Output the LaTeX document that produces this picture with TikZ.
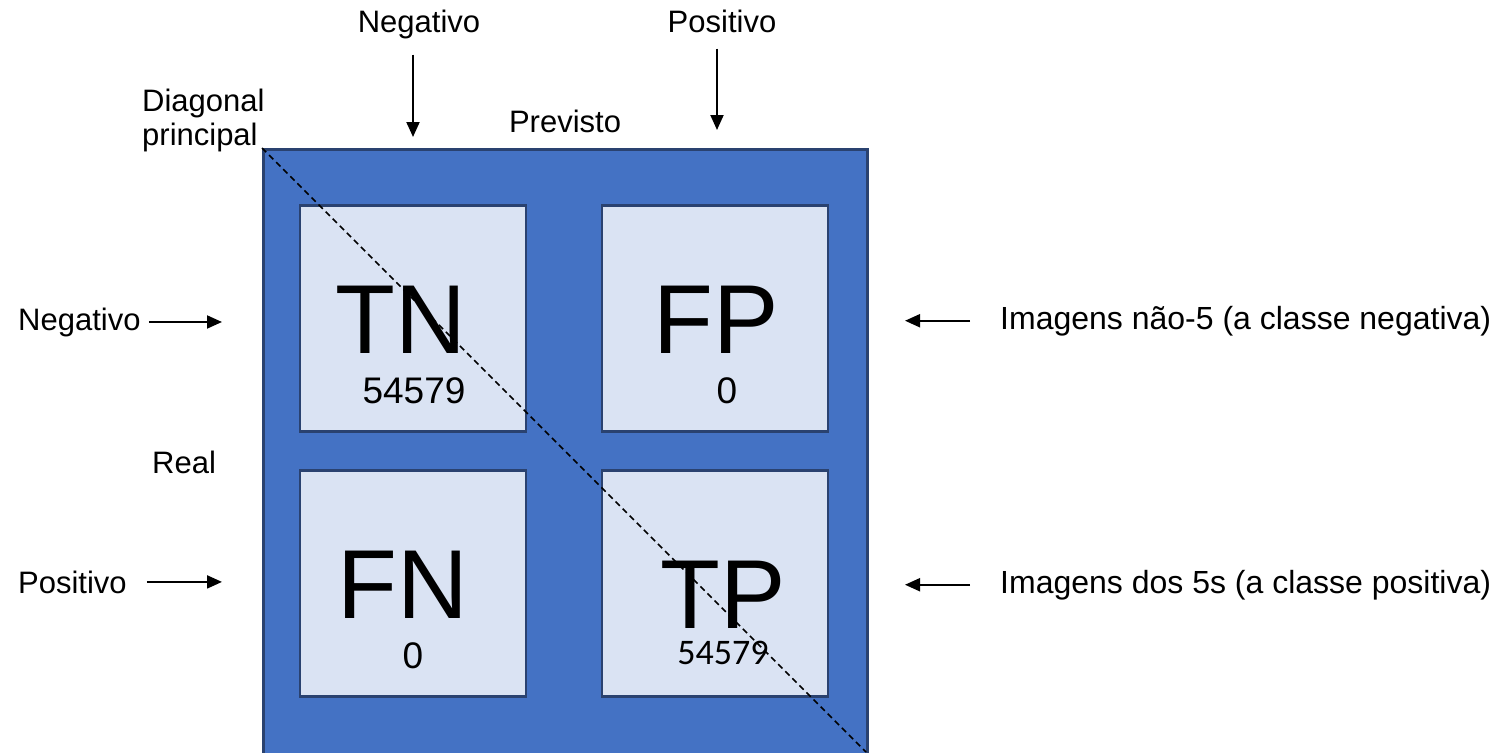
\documentclass[tikz,border=0pt]{standalone}
\usepackage{fontspec}
\setmainfont{Liberation Sans}
\newfontfamily\calfont{Carlito}
\usepackage{tikz}
\usetikzlibrary{arrows.meta,positioning}
\definecolor{cmblue}{HTML}{4472C4}
\definecolor{cmedge}{HTML}{2A4270}
\definecolor{cmcell}{HTML}{DAE3F3}
\tikzset{
  outerbox/.style={rectangle,draw=cmedge,fill=cmblue,line width=3pt,
    minimum width=604pt,minimum height=640pt,anchor=north west,inner sep=0pt},
  cellbox/.style={rectangle,draw=cmedge,fill=cmcell,line width=2.5pt,
    minimum width=226pt,minimum height=226pt,inner sep=0pt},
  bigtxt/.style={font=\fontsize{98}{98}\selectfont,anchor=base,inner sep=0pt,
    text depth=0pt},
  numtxt/.style={font=\fontsize{37}{37}\selectfont,anchor=base,inner sep=0pt},
  lbl/.style={font=\fontsize{31}{34}\selectfont,inner sep=0pt},
  arrow/.style={-{Triangle[length=15pt,width=13pt]},line width=2pt},
  diag/.style={dash pattern=on 6pt off 4pt,line width=1.5pt},
}

\begin{document}
\begin{tikzpicture}[x=1pt,y=-1pt]
  \useasboundingbox (0,0) rectangle (1498,752);
  % matrix
  \node[outerbox] (conf) at (262,148) {};
  \node[cellbox] (tn) at (413,318.5) {};
  \node[cellbox] (fp) at (715,318.5) {};
  \node[cellbox] (fn) at (413,583.5) {};
  \node[cellbox] (tp) at (715,583.5) {};
  \node[bigtxt] (tnl) at (401,353) {TN};
  \node[numtxt] (tnn) at (414,403) {54579};
  \node[bigtxt] (fpl) at (716,353) {FP};
  \node[numtxt] (fpn) at (727,403) {0};
  \node[bigtxt] (fnl) at (403,618) {FN};
  \node[numtxt] (fnn) at (413,668) {0};
  \node[bigtxt] (tpl) at (723,628) {TP};
  \node[numtxt,font=\calfont\fontsize{36}{36}\selectfont] (tpn) at (723,664) {54579};
  % labels
  \node[lbl,anchor=base] (pneg) at (419,33) {Negativo};
  \node[lbl,anchor=base] (ppos) at (722,33) {Positivo};
  \node[lbl,anchor=base] (prev) at (565,132) {Previsto};
  \node[lbl,anchor=base west] (diag1) at (142,111) {Diagonal};
  \node[lbl,anchor=base west] (diag2) at (142,145) {principal};
  \node[lbl,anchor=base west] (rneg) at (18,330) {Negativo};
  \node[lbl,anchor=base west] (rpos) at (18,593) {Positivo};
  \node[lbl,anchor=base west] (real) at (152,473) {Real};
  \node[lbl,anchor=base west,font=\fontsize{32}{34}\selectfont] (img1) at (1000,329) {Imagens não-5 (a classe negativa)};
  \node[lbl,anchor=base west,font=\fontsize{32}{34}\selectfont] (img2) at (1000,593) {Imagens dos 5s (a classe positiva)};
  % arrow tips
  \coordinate (cneg) at (413,137);
  \coordinate (cpos) at (717,130);
  \coordinate (rtip) at (222,0);
  \coordinate (ltip) at (905,0);
  \draw[arrow,shorten <=15pt] (cneg |- pneg.south) -- (cneg);
  \draw[arrow,shorten <=15pt] (cpos |- ppos.south) -- (cpos);
  \draw[arrow,shorten <=8pt] (rneg.east) -- (rneg.east -| rtip);
  \draw[arrow,shorten <=20pt] (rpos.east) -- (rpos.east -| rtip);
  \draw[arrow,shorten <=30pt] (img1.west) -- (img1.west -| ltip);
  \draw[arrow,shorten <=30pt] (img2.west) -- (img2.west -| ltip);
  % diagonal
  \coordinate (dend) at (866,752);
  \draw[diag] (conf.north west) -- (dend);
\end{tikzpicture}
\end{document}
